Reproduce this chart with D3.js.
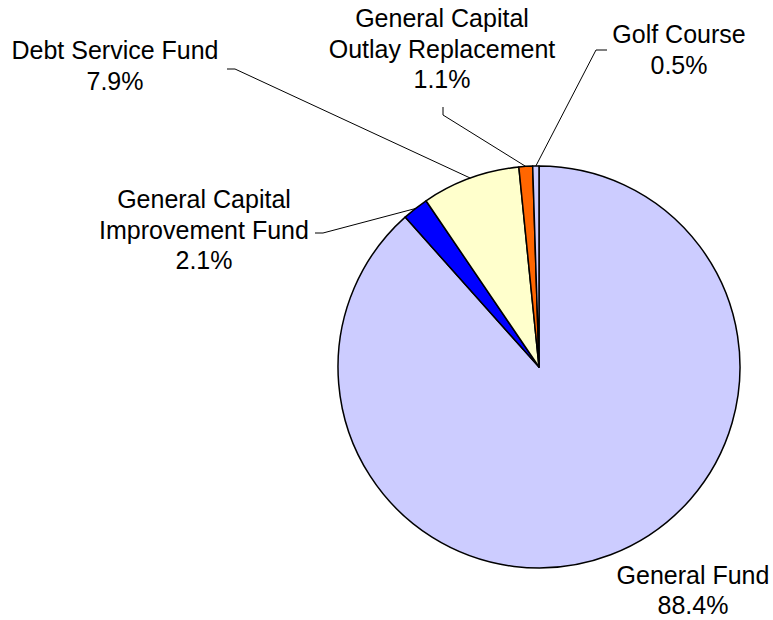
<!DOCTYPE html>
<html>
<head>
<meta charset="utf-8">
<script src="https://cdn.jsdelivr.net/npm/d3@7"></script>
<style>
  html, body { margin: 0; padding: 0; background: #ffffff; }
  svg { display: block; }
  text { font-family: "Liberation Sans", Arial, sans-serif; font-size: 25px; fill: #000; }
</style>
</head>
<body>
<svg id="chart" width="773" height="620"></svg>
<script>
// Fund shares (percent of total), drawn clockwise from 12 o'clock
const funds = ["General Fund", "General Capital Improvement Fund", "Debt Service Fund",
               "General Capital Outlay Replacement", "Golf Course"];
const shares = [88.4, 2.1, 7.9, 1.1, 0.5];
const labelLines = [["General Fund"], ["General Capital", "Improvement Fund"], ["Debt Service Fund"],
                    ["General Capital", "Outlay Replacement"], ["Golf Course"]];

// Colours per slice
const colors = ["#CCCCFF", "#0000FF", "#FFFFCC", "#FF6600", "#CCCCFF"];

// Label block placement: centre x, first baseline, line gap, leader elbow (start, bend)
const labelLayout = [
  { x: 693, y: 584, gap: 29.5, leader: null },
  { x: 204, y: 208, gap: 30.5, leader: [[315, 233], [323, 233]] },
  { x: 115, y: 59,  gap: 30.5, leader: [[227, 69], [235, 69]] },
  { x: 442, y: 27,  gap: 30.5, leader: [[443, 107], [443, 115]] },
  { x: 679, y: 43,  gap: 30.5, leader: [[607, 50], [596, 50]] }
];

const svg = d3.select("#chart");
const cx = 539, cy = 367, r = 201;

const pie = d3.pie().sort(null).value(d => d.value);
const data = funds.map((f, i) => ({ name: f, value: shares[i], i }));
const arcs = pie(data);
const arc = d3.arc().innerRadius(0).outerRadius(r);

const g = svg.append("g").attr("transform", `translate(${cx},${cy})`);

g.selectAll("path.slice")
  .data(arcs)
  .enter().append("path")
  .attr("class", "slice")
  .attr("d", arc)
  .attr("fill", d => colors[d.data.i])
  .attr("stroke", "#000")
  .attr("stroke-width", 1.5)
  .attr("stroke-linejoin", "round");

// Leader lines from label to the middle of each slice's rim
const rim = d => {
  const a = (d.startAngle + d.endAngle) / 2;
  return [cx + r * Math.sin(a), cy - r * Math.cos(a)];
};

arcs.forEach(d => {
  const lay = labelLayout[d.data.i];
  if (!lay.leader) return;
  const pts = lay.leader.concat([rim(d)]);
  svg.append("path")
    .attr("d", d3.line()(pts))
    .attr("fill", "none")
    .attr("stroke", "#000")
    .attr("stroke-width", 1);
});

// Labels: name lines followed by the percentage
arcs.forEach(d => {
  const lay = labelLayout[d.data.i];
  const lines = labelLines[d.data.i].concat([d3.format(".1f")(d.data.value) + "%"]);
  const t = svg.append("text").attr("text-anchor", "middle");
  lines.forEach((ln, k) => {
    t.append("tspan").attr("x", lay.x).attr("y", lay.y + k * lay.gap).text(ln);
  });
});
</script>
</body>
</html>
